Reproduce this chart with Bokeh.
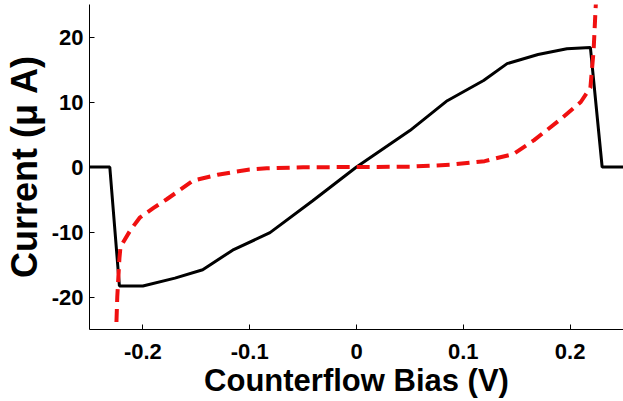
from bokeh.plotting import figure
from bokeh.embed import file_html
from bokeh.resources import INLINE
from bokeh.models import FixedTicker, Range1d

# Black solid curve (current vs counterflow bias)
black_x = [-0.25, -0.231, -0.222, -0.2, -0.17, -0.144, -0.116, -0.081, -0.041, 0.0,
           0.05, 0.085, 0.119, 0.141, 0.17, 0.197, 0.219, 0.23, 0.25]
black_y = [0.0, 0.0, -18.3, -18.3, -17.1, -15.8, -12.8, -10.1, -5.2, 0.0,
           5.6, 10.2, 13.3, 15.9, 17.3, 18.2, 18.4, 0.0, 0.0]

# Red dashed curve
red_x = [-0.226, -0.224, -0.222, -0.221, -0.212, -0.203, -0.19, -0.178, -0.165, -0.153,
         -0.13, -0.116, -0.1, -0.084, -0.05, 0.0, 0.05, 0.088, 0.12, 0.147,
         0.166, 0.19, 0.21, 0.219, 0.222, 0.224, 0.226]
red_y = [-30.0, -20.0, -14.1, -12.3, -9.8, -7.8, -6.3, -5.0, -3.5, -2.1,
         -1.2, -0.8, -0.4, -0.2, -0.05, 0.0, 0.05, 0.35, 0.9, 2.0,
         4.1, 7.2, 10.0, 12.2, 17.9, 24.8, 30.0]

x_ticks = [-0.2, -0.1, 0.0, 0.1, 0.2]
y_ticks = [-20, -10, 0, 10, 20]
x_tick_labels = {-0.2: "-0.2", -0.1: "-0.1", 0.0: "0", 0.1: "0.1", 0.2: "0.2"}
y_tick_labels = {-20: "-20", -10: "-10", 0: "0", 10: "10", 20: "20"}

p = figure(width=623, height=401, output_backend="svg", toolbar_location=None,
           x_range=Range1d(-0.25, 0.25), y_range=Range1d(-25, 25),
           min_border_left=88, min_border_right=0, min_border_top=4, min_border_bottom=72)

p.outline_line_color = None
p.xgrid.visible = False
p.ygrid.visible = False
p.background_fill_color = "white"
p.border_fill_color = "white"

p.line(black_x, black_y, line_color="black", line_width=3)
p.line(red_x, red_y, line_color="#f01010", line_width=4, line_dash="13 7")

FONT = "Liberation Sans"
for ax in (p.xaxis[0], p.yaxis[0]):
    ax.axis_line_color = "black"
    ax.axis_line_width = 1
    ax.major_tick_in = 5
    ax.major_tick_out = 0
    ax.minor_tick_line_color = None
    ax.major_label_text_font = FONT
    ax.major_label_text_font_style = "bold"
    ax.major_label_text_font_size = "22px"
    ax.major_label_text_color = "black"
    ax.axis_label_text_font = FONT
    ax.axis_label_text_font_style = "bold"
    ax.axis_label_text_color = "black"

p.xaxis.ticker = FixedTicker(ticks=x_ticks)
p.yaxis.ticker = FixedTicker(ticks=y_ticks)
p.xaxis.major_label_overrides = x_tick_labels
p.yaxis.major_label_overrides = y_tick_labels

p.xaxis.axis_label = "Counterflow Bias (V)"
p.xaxis.axis_label_text_font_size = "31px"
p.xaxis.major_label_standoff = 14
p.xaxis.axis_label_standoff = 1

p.yaxis.axis_label = "Current (μ A)"
p.yaxis.axis_label_text_font_size = "36px"
p.yaxis.major_label_standoff = 6
p.yaxis.axis_label_standoff = 4

open("out.html", "w").write(file_html(p, INLINE))
